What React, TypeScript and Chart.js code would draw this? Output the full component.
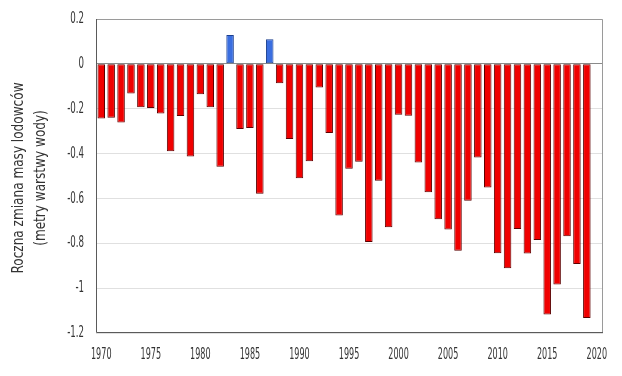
import React, { useEffect, useRef } from "react";
import { Chart, registerables } from "chart.js";

Chart.register(...registerables);

const years: number[] = Array.from({ length: 50 }, (_, i) => 1970 + i);

const massChange: number[] = [
  -0.244, -0.240, -0.262, -0.132, -0.194, -0.197, -0.221, -0.390, -0.233, -0.413,
  -0.135, -0.194, -0.459, 0.129, -0.290, -0.286, -0.579, 0.110, -0.086, -0.335,
  -0.510, -0.434, -0.105, -0.308, -0.676, -0.468, -0.436, -0.794, -0.521, -0.729,
  -0.227, -0.231, -0.440, -0.572, -0.693, -0.739, -0.833, -0.610, -0.418, -0.551,
  -0.844, -0.911, -0.736, -0.846, -0.785, -1.117, -0.984, -0.769, -0.892, -1.133,
];

const xTickValues: number[] = [1970, 1975, 1980, 1985, 1990, 1995, 2000, 2005, 2010, 2015, 2020];
const xTickLabels: string[] = ["1970", "1975", "1980", "1985", "1990", "1995", "2000", "2005", "2010", "2015", "2020"];
const yTickValues: number[] = [0.2, 0, -0.2, -0.4, -0.6, -0.8, -1, -1.2];
const yTickLabels: string[] = ["0.2", "0", "-0.2", "-0.4", "-0.6", "-0.8", "-1", "-1.2"];
const yTitleLines: string[] = ["Roczna zmiana masy lodowców", "(metry warstwy wody)"];

const FONT = "'DejaVu Sans Condensed', 'DejaVu Sans', sans-serif";
const TEXT = "#333333";

function scaledText(
  ctx: CanvasRenderingContext2D,
  text: string,
  x: number,
  y: number,
  align: CanvasTextAlign,
  sx: number,
  rotate = 0
) {
  ctx.save();
  ctx.translate(x, y);
  if (rotate) ctx.rotate(rotate);
  ctx.scale(sx, 1);
  ctx.textAlign = align;
  ctx.textBaseline = "middle";
  ctx.fillText(text, 0, 0);
  ctx.restore();
}

export default function App() {
  const ref = useRef<HTMLCanvasElement | null>(null);

  useEffect(() => {
    if (!ref.current) return;

    const framePlugin = {
      id: "frame",
      afterDatasetsDraw(chart: any) {
        const { ctx, chartArea: a } = chart;
        ctx.save();
        ctx.lineWidth = 1;
        ctx.strokeStyle = "#9a9a9a";
        ctx.beginPath();
        ctx.moveTo(a.left, a.top + 0.5);
        ctx.lineTo(a.right - 0.5, a.top + 0.5);
        ctx.lineTo(a.right - 0.5, a.bottom);
        ctx.stroke();
        ctx.strokeStyle = "#5a5a5a";
        ctx.beginPath();
        ctx.moveTo(a.left + 0.5, a.top);
        ctx.lineTo(a.left + 0.5, a.bottom - 0.5);
        ctx.lineTo(a.right, a.bottom - 0.5);
        ctx.stroke();
        ctx.restore();
      },
      afterDraw(chart: any) {
        const { ctx, chartArea: a } = chart;
        const xs = chart.scales.x;
        const ys = chart.scales.y;
        ctx.save();
        ctx.fillStyle = TEXT;
        ctx.font = `16px ${FONT}`;
        // x tick labels
        xTickValues.forEach((v, i) => {
          scaledText(ctx, xTickLabels[i], xs.getPixelForValue(v), a.bottom + 22, "center", 0.56);
        });
        // y tick labels
        yTickValues.forEach((v, i) => {
          scaledText(ctx, yTickLabels[i], a.left - 12, ys.getPixelForValue(v), "right", 0.6);
        });
        // y title
        ctx.font = `16px ${FONT}`;
        const cy = (a.top + a.bottom) / 2 + 2;
        const lx = [19, 41];
        yTitleLines.forEach((line, i) => {
          scaledText(ctx, line, lx[i], cy, "center", 0.84, -Math.PI / 2);
        });
        ctx.restore();
      },
    };

    const chart = new Chart(ref.current, {
      type: "bar",
      data: {
        datasets: [
          {
            data: years.map((y, i) => ({ x: y, y: massChange[i] })),
            backgroundColor: massChange.map((v) => (v >= 0 ? "#3a6ee0" : "#f00000")),
            borderColor: massChange.map((v) => (v >= 0 ? "#1c3f8f" : "#5c0000")),
            borderWidth: 1,
            borderSkipped: false,
            barPercentage: 0.76,
            categoryPercentage: 1,
          },
        ],
      },
      plugins: [framePlugin],
      options: {
        responsive: false,
        animation: false,
        devicePixelRatio: 1,
        layout: { padding: { left: 0, top: 19, right: 19, bottom: 0 } },
        plugins: {
          legend: { display: false },
          tooltip: { enabled: false },
        },
        scales: {
          x: {
            type: "linear",
            offset: false,
            min: 1969.47,
            max: 2020.63,
            grid: { display: false, drawTicks: false },
            border: { display: false },
            afterBuildTicks: (s: any) => {
              s.ticks = xTickValues.map((v) => ({ value: v }));
            },
            afterFit: (s: any) => {
              s.height = 43;
            },
            ticks: { display: false },
          },
          y: {
            min: -1.2,
            max: 0.2,
            grid: {
              drawTicks: false,
              color: (c: any) =>
                c.tick && Math.abs(c.tick.value) < 1e-9 ? "#8a8a8a" : "#e0e0e0",
            },
            border: { display: false },
            afterBuildTicks: (s: any) => {
              s.ticks = yTickValues.map((v) => ({ value: v }));
            },
            afterFit: (s: any) => {
              s.width = 96;
            },
            ticks: { display: false },
          },
        },
      },
    });

    return () => chart.destroy();
  }, []);

  return (
    <div style={{ position: "fixed", left: 0, top: 0, width: 622, height: 376, background: "#fff" }}>
      <canvas ref={ref} width={622} height={376} style={{ display: "block" }} />
    </div>
  );
}
